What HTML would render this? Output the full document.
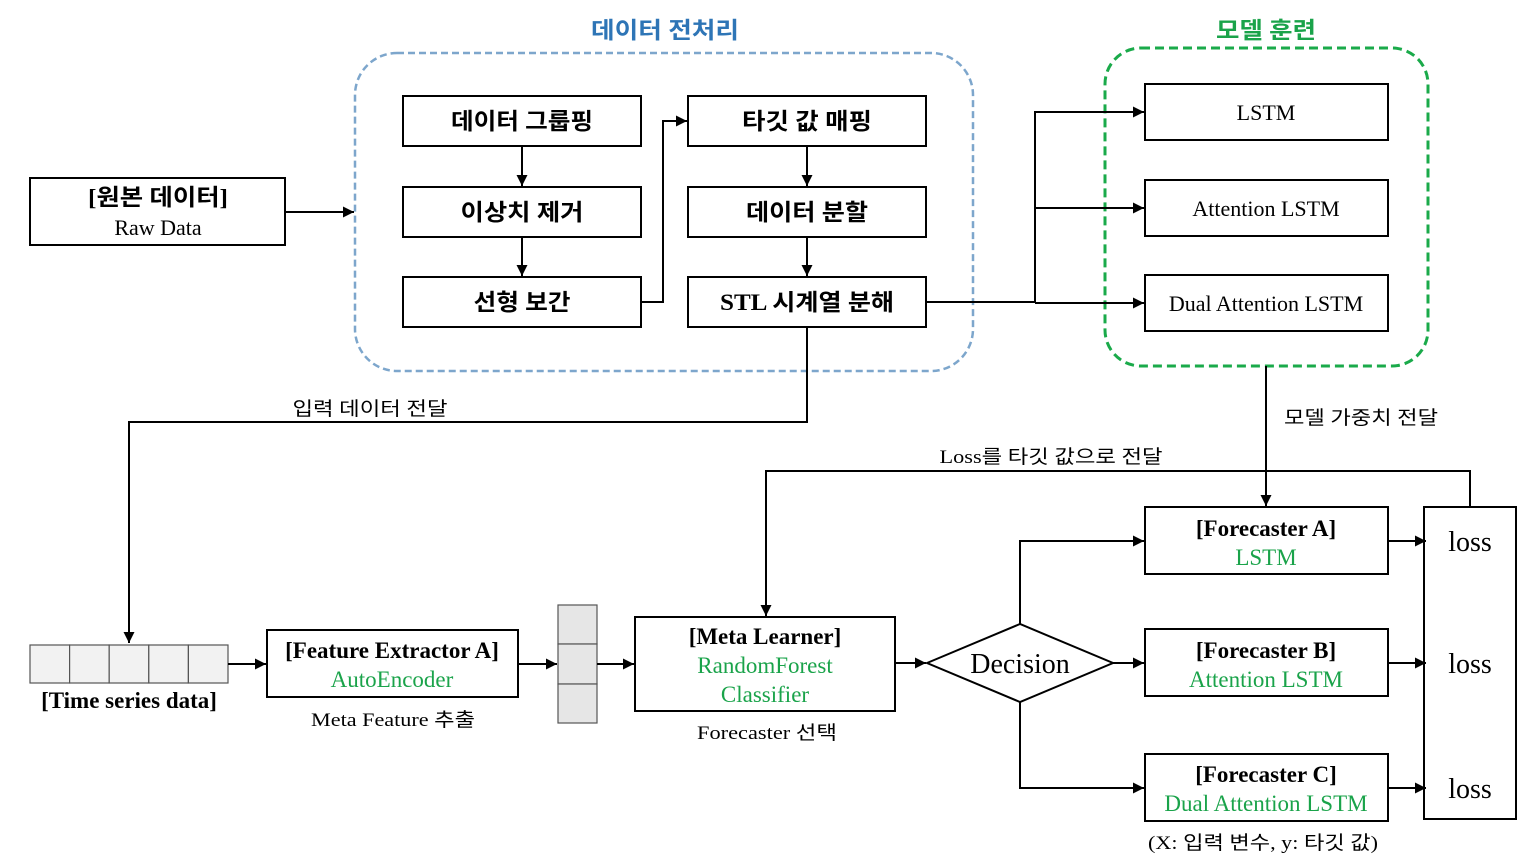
<!DOCTYPE html>
<html><head><meta charset="utf-8"><style>
html,body{margin:0;padding:0;background:#fff;}
svg{display:block;}
text{font-family:"Liberation Serif","Noto Sans CJK KR",serif;}
.k{font-family:"Liberation Serif","Noto Sans CJK KR",sans-serif;}
.b{font-weight:bold;}
.g{fill:#1aa34a;}
</style></head><body>
<svg width="1536" height="865" viewBox="0 0 1536 865" xmlns="http://www.w3.org/2000/svg">
<defs>
<marker id="a" viewBox="0 0 10 10" refX="10" refY="5" markerWidth="11" markerHeight="11" markerUnits="userSpaceOnUse" orient="auto"><path d="M0,0 L10,5 L0,10 z" fill="#000"/></marker>
</defs>
<g fill="none" stroke="#000" stroke-width="2">
<rect x="355" y="53" width="618" height="318" rx="42" stroke="#7da6cc" stroke-width="2.5" stroke-dasharray="7,4"/>
<rect x="1105" y="48" width="323" height="318" rx="36" stroke="#1aaa4a" stroke-width="3" stroke-dasharray="9,5"/>
<rect x="30" y="178" width="255" height="67"/>
<rect x="403" y="96" width="238" height="50"/>
<rect x="403" y="187" width="238" height="50"/>
<rect x="403" y="277" width="238" height="50"/>
<rect x="688" y="96" width="238" height="50"/>
<rect x="688" y="187" width="238" height="50"/>
<rect x="688" y="277" width="238" height="50"/>
<rect x="1145" y="84" width="243" height="56"/>
<rect x="1145" y="180" width="243" height="56"/>
<rect x="1145" y="275" width="243" height="56"/>
<rect x="267" y="630" width="251" height="67"/>
<rect x="635" y="617" width="260" height="94"/>
<rect x="1145" y="507" width="243" height="67"/>
<rect x="1145" y="629" width="243" height="67"/>
<rect x="1145" y="754" width="243" height="67"/>
<rect x="1424" y="507" width="92" height="312"/>
<path d="M927,663 L1020,624 L1113,663 L1020,702 Z"/>
</g>
<g fill="#f2f2f2" stroke="#555" stroke-width="1.2">
<rect x="30" y="645" width="39.6" height="38"/><rect x="69.6" y="645" width="39.6" height="38"/><rect x="109.2" y="645" width="39.6" height="38"/><rect x="148.8" y="645" width="39.6" height="38"/><rect x="188.4" y="645" width="39.6" height="38"/>
</g>
<g fill="#e6e6e6" stroke="#555" stroke-width="1.2">
<rect x="558" y="605" width="39" height="39"/><rect x="558" y="644" width="39" height="40"/><rect x="558" y="684" width="39" height="39"/>
</g>
<g fill="none" stroke="#000" stroke-width="2" marker-end="url(#a)">
<path d="M285,212 H354"/>
<path d="M522,146 V186"/>
<path d="M522,237 V276"/>
<path d="M641,302 H663 V121 H687"/>
<path d="M807,146 V186"/>
<path d="M807,237 V276"/>
<path d="M926,302 H1035 V112 H1144"/>
<path d="M1035,208 H1144"/>
<path d="M1035,303 H1144"/>
<path d="M807,327 V422 H129 V643"/>
<path d="M1266,366 V506"/>
<path d="M1470,507 V471 H766 V616"/>
<path d="M228,664 H266"/>
<path d="M518,664 H557"/>
<path d="M597,664 H634"/>
<path d="M895,663 H926"/>
<path d="M1020,624 V541 H1144"/>
<path d="M1113,663 H1144"/>
<path d="M1020,702 V788 H1144"/>
<path d="M1388,541 H1426"/>
<path d="M1388,663 H1426"/>
<path d="M1388,788 H1426"/>
</g>
<g text-anchor="middle">
<text x="665" y="38" class="k b" font-size="23" fill="#2e75b6" textLength="148" lengthAdjust="spacingAndGlyphs">데이터 전처리</text>
<text x="1266" y="38" class="k b" font-size="23" fill="#1aa34a" textLength="100" lengthAdjust="spacingAndGlyphs">모델 훈련</text>
<text x="158" y="205" class="k b" font-size="23" textLength="140" lengthAdjust="spacingAndGlyphs">[원본 데이터]</text>
<text x="158" y="235" font-size="22">Raw Data</text>
<text x="522" y="129" class="k b" font-size="23" textLength="142" lengthAdjust="spacingAndGlyphs">데이터 그룹핑</text>
<text x="522" y="220" class="k b" font-size="23" textLength="123" lengthAdjust="spacingAndGlyphs">이상치 제거</text>
<text x="522" y="310" class="k b" font-size="23" textLength="97" lengthAdjust="spacingAndGlyphs">선형 보간</text>
<text x="807" y="129" class="k b" font-size="23" textLength="130" lengthAdjust="spacingAndGlyphs">타깃 값 매핑</text>
<text x="807" y="220" class="k b" font-size="23" textLength="122" lengthAdjust="spacingAndGlyphs">데이터 분할</text>
<text x="807" y="310" class="k b" font-size="23" textLength="174" lengthAdjust="spacingAndGlyphs">STL 시계열 분해</text>
<text x="1266" y="120" font-size="22">LSTM</text>
<text x="1266" y="216" font-size="22">Attention LSTM</text>
<text x="1266" y="311" font-size="22">Dual Attention LSTM</text>
<text x="370" y="415" class="k" font-size="19" textLength="155" lengthAdjust="spacingAndGlyphs">입력 데이터 전달</text>
<text x="1361" y="424" class="k" font-size="19" textLength="154" lengthAdjust="spacingAndGlyphs">모델 가중치 전달</text>
<text x="1051" y="463" class="k" font-size="19" textLength="223" lengthAdjust="spacingAndGlyphs">Loss를 타깃 값으로 전달</text>
<text x="129" y="708" class="b" font-size="23">[Time series data]</text>
<text x="392" y="658" class="b" font-size="23">[Feature Extractor A]</text>
<text x="392" y="687" font-size="23" class="g">AutoEncoder</text>
<text x="393" y="726" class="k" font-size="19" textLength="164" lengthAdjust="spacingAndGlyphs">Meta Feature 추출</text>
<text x="765" y="644" class="b" font-size="23">[Meta Learner]</text>
<text x="765" y="673" font-size="23" class="g">RandomForest</text>
<text x="765" y="702" font-size="23" class="g">Classifier</text>
<text x="767" y="739" class="k" font-size="19" textLength="140" lengthAdjust="spacingAndGlyphs">Forecaster 선택</text>
<text x="1020" y="673" font-size="28">Decision</text>
<text x="1266" y="536" class="b" font-size="23">[Forecaster A]</text>
<text x="1266" y="565" font-size="23" class="g">LSTM</text>
<text x="1266" y="658" class="b" font-size="23">[Forecaster B]</text>
<text x="1266" y="687" font-size="23" class="g">Attention LSTM</text>
<text x="1266" y="782" class="b" font-size="23">[Forecaster C]</text>
<text x="1266" y="811" font-size="23" class="g">Dual Attention LSTM</text>
<text x="1263" y="849" class="k" font-size="19" textLength="230" lengthAdjust="spacingAndGlyphs">(X: 입력 변수, y: 타깃 값)</text>
<text x="1470" y="551" font-size="28">loss</text>
<text x="1470" y="673" font-size="28">loss</text>
<text x="1470" y="798" font-size="28">loss</text>
</g>
</svg>
</body></html>
